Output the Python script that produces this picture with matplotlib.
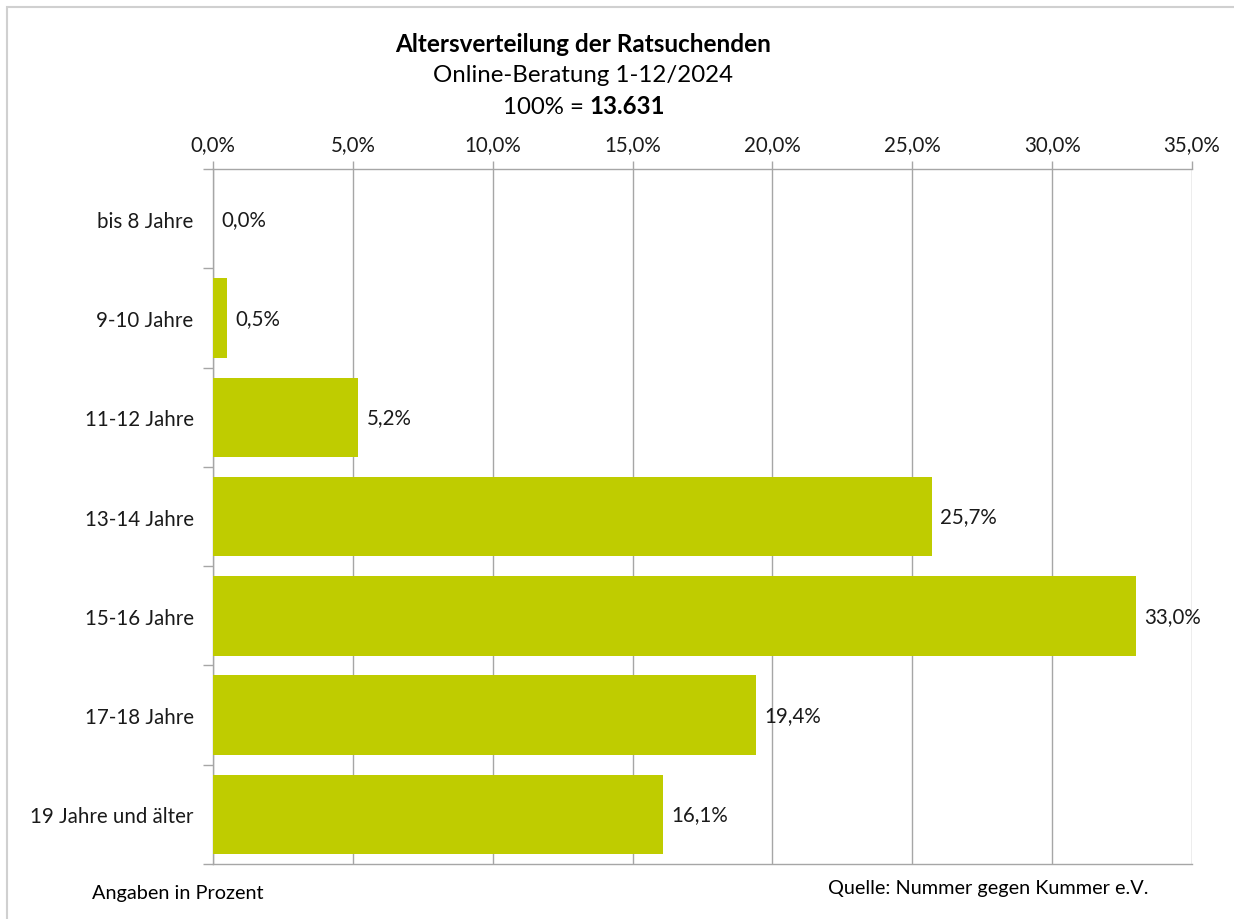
import matplotlib
matplotlib.use("Agg")
import matplotlib.pyplot as plt
from matplotlib.patches import Rectangle
import numpy as np

categories = ["bis 8 Jahre", "9-10 Jahre", "11-12 Jahre", "13-14 Jahre",
              "15-16 Jahre", "17-18 Jahre", "19 Jahre und älter"]
values = [0.0, 0.5, 5.2, 25.7, 33.0, 19.4, 16.1]
xticks = [0, 5, 10, 15, 20, 25, 30, 35]
xtick_labels = ["0,0%", "5,0%", "10,0%", "15,0%", "20,0%", "25,0%", "30,0%", "35,0%"]
value_labels = ["0,0%", "0,5%", "5,2%", "25,7%", "33,0%", "19,4%", "16,1%"]

plt.rcParams['font.family'] = ['Lato', 'DejaVu Sans']

W, H = 1234, 920
fig = plt.figure(figsize=(W / 100, H / 100), dpi=100)
fig.patch.set_facecolor("white")

# outer frame
fig.add_artist(Rectangle((7 / W, -0.05), 1.2, (H - 8) / H + 0.05, transform=fig.transFigure,
                         fill=False, edgecolor="#d0d0d0", linewidth=1.5))

left, right, top, bottom = 213, 1192, 170, 865
ax = fig.add_axes([left / W, 1 - bottom / H, (right - left) / W, (bottom - top) / H])

grid_c = "#a6a6a6"
txt_c = "#1a1a1a"
fs = 14.8
y = np.arange(len(categories))
ax.barh(y, values, height=0.8, color="#bfcc00", zorder=3)
ax.set_xlim(0, 35)
ax.set_ylim(len(categories) - 0.5, -0.5)

ax.xaxis.tick_top()
ax.set_xticks(xticks)
ax.set_xticklabels(xtick_labels, fontsize=fs, color=txt_c)
ax.tick_params(axis="x", which="major", length=6, width=1, color=grid_c, pad=5)
ax.grid(axis="x", color=grid_c, linewidth=1, zorder=0)

ax.set_yticks(y)
ax.set_yticklabels(categories, fontsize=fs, color=txt_c)
ax.tick_params(axis="y", which="major", length=0, pad=14)
ax.set_yticks(np.arange(len(categories) + 1) - 0.5, minor=True)
ax.tick_params(axis="y", which="minor", length=7, width=1, color=grid_c)

for s in ax.spines.values():
    s.set_color(grid_c)
    s.set_linewidth(1)
ax.spines["right"].set_visible(False)

for yi, v, lab in zip(y, values, value_labels):
    ax.annotate(lab, xy=(v, yi), xytext=(6, 0), textcoords="offset points",
                va="center", ha="left", fontsize=fs, color=txt_c)

fig.text(583 / W, 1 - 45 / H, "Altersverteilung der Ratsuchenden", ha="center", va="center",
         fontsize=17.5, fontweight="bold", color="black")
fig.text(583 / W, 1 - 76 / H, "Online-Beratung 1-12/2024", ha="center", va="center",
         fontsize=17.3, color="black")
fig.text(584 / W, 1 - 107 / H, "100% =", ha="right", va="center", fontsize=17.3, color="black")
fig.text(589 / W, 1 - 107 / H, "13.631", ha="left", va="center", fontsize=17.3,
         fontweight="bold", color="black")

fig.text(92 / W, 1 - 894 / H, "Angaben in Prozent", ha="left", va="center", fontsize=14.3, color="black")
fig.text(828 / W, 1 - 889 / H, "Quelle: Nummer gegen Kummer e.V.", ha="left", va="center",
         fontsize=14.3, color="black")

fig.savefig("out.png", dpi=100)
